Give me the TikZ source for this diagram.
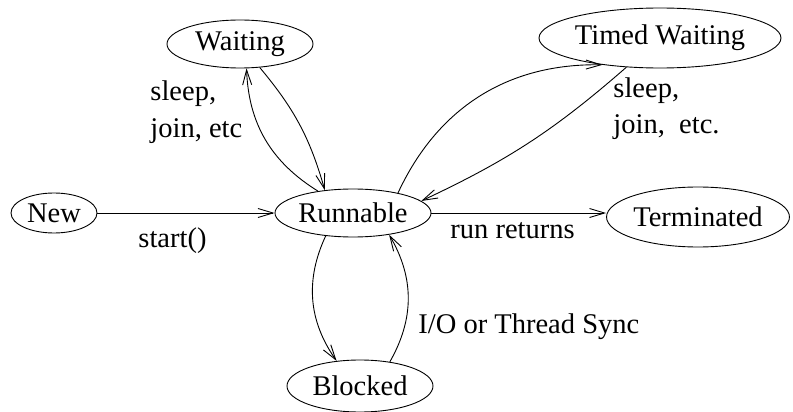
\documentclass[tikz,border=0pt]{standalone}
\usepackage{fontspec}
\setmainfont{Liberation Serif}
\usetikzlibrary{shapes.geometric,arrows.meta}

\begin{document}
\begin{tikzpicture}[x=1pt, y=-1pt, line width=0.9pt, >={Straight Barb[length=15pt,width=9pt]},
		font=\fontsize{28.5}{36}\selectfont,
		main/.style = {draw, ellipse, inner sep=0pt},
		lbl/.style = {align=left, anchor=base west, inner sep=0pt}]
			\useasboundingbox (0,0) rectangle (793,412);
			\node[main, minimum width=86pt, minimum height=40pt] (new) at (54,213) {New};
			\node[main, minimum width=156pt, minimum height=48pt] (runnable) at (353,213) {Runnable};
			\node[main, minimum width=146pt, minimum height=48pt] (waiting) at (240,44) {Waiting};
			\node[main, minimum width=242pt, minimum height=60pt] (timed) at (660,38) {Timed Waiting};
			\node[main, minimum width=180pt, minimum height=60pt] (terminated) at (698,217) {Terminated};
			\node[main, minimum width=146pt, minimum height=52pt] (blocked) at (360,386) {Blocked};
			\node[lbl] (start) at (138,247) {start()};
			\node[lbl] (runret) at (450,238) {run returns};
			\node[lbl] (io) at (418,333) {I/O or Thread Sync};
			\node[lbl] (sleep1) at (150,137) {sleep,\\join, etc};
			\node[lbl] (sleep2) at (613,133) {sleep,\\join,\enspace etc.};
			\draw[->] (new) -- (runnable);
			\draw[->] (runnable.east) -- (runnable.east -| terminated.west);
			\draw[->] (runnable.148) to[bend left=28] (waiting.285);
			\draw[->] (waiting.310) to[bend left=12] (runnable.141);
			\draw[->] (runnable.24) to[bend left=33] (timed.205);
			\draw[->] (timed.221) to[bend left=8] (runnable.10);
			\draw[->] (runnable.220) to[bend right=30] (blocked.133);
			\draw[->] (blocked.39) to[bend right=30] (runnable.329);
		\end{tikzpicture}
\end{document}
